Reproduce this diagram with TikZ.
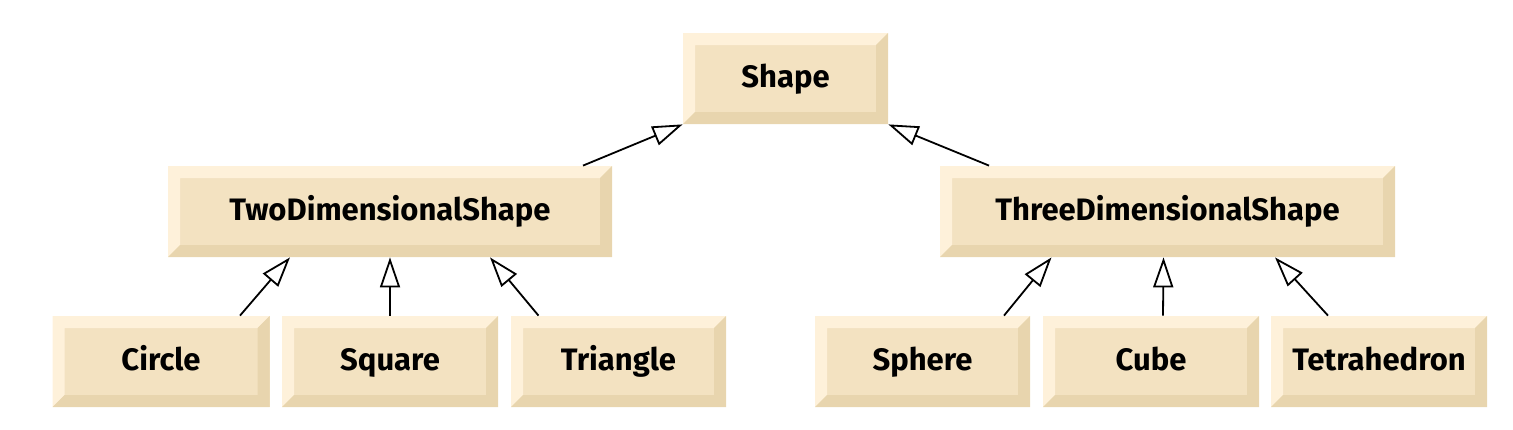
\documentclass[tikz,border=0pt]{standalone}
\usepackage{fontspec}
\setmainfont{Fira Sans}
\usetikzlibrary{arrows.meta}

\definecolor{boxface}{HTML}{F3E2C1}
\definecolor{boxlight}{HTML}{FEF1DA}
\definecolor{boxdark}{HTML}{E8D5AE}

\begin{document}
\begin{tikzpicture}[x=0.5pt,y=-0.5pt]
			\tikzstyle{every node}=[fill=boxface,inner sep=0pt,minimum height=45.5pt,
				text height=11pt,text depth=2pt,
				font=\bfseries\fontsize{15.5}{18}\selectfont,
				path picture={
					\fill[boxlight] (path picture bounding box.north west) -- (path picture bounding box.north east)
						-- ([shift={(-6pt,-6pt)}]path picture bounding box.north east)
						-- ([shift={(6pt,-6pt)}]path picture bounding box.north west)
						-- ([shift={(6pt,6pt)}]path picture bounding box.south west)
						-- (path picture bounding box.south west) -- cycle;
					\fill[boxdark] (path picture bounding box.north east) -- (path picture bounding box.south east)
						-- (path picture bounding box.south west)
						-- ([shift={(6pt,6pt)}]path picture bounding box.south west)
						-- ([shift={(-6pt,6pt)}]path picture bounding box.south east)
						-- ([shift={(-6pt,-6pt)}]path picture bounding box.north east) -- cycle;
				}]
			\tikzstyle{generalization}=[{Triangle[open,length=15pt,width=10pt]}-,line width=0.9pt]
			\useasboundingbox (0,0) rectangle (1513,429);
			% top level
			\node[minimum width=102.5pt] (shape) at (785.5,78.5) {Shape};
			% second level
			\node[minimum width=222pt] (twod) at (390,211.5) {TwoDimensionalShape};
			\node[minimum width=227.5pt] (threed) at (1167.5,211.5) {ThreeDimensionalShape};
			% leaves
			\node[minimum width=108.5pt] (circle) at (161,361.5) {Circle};
			\node[minimum width=108pt] (square) at (390,361.5) {Square};
			\node[minimum width=107.5pt] (triangle) at (618.5,361.5) {Triangle};
			\node[minimum width=107.5pt] (sphere) at (922.5,361.5) {Sphere};
			\node[minimum width=108pt] (cube) at (1151,361.5) {Cube};
			\node[minimum width=108pt] (tetrahedron) at (1379,361.5) {Tetrahedron};
			% inheritance
			\draw[generalization] (shape.south west) -- ([xshift=96.5pt]twod.north);
			\draw[generalization] (shape.south east) -- ([xshift=-89.25pt]threed.north);
			\draw[generalization] ([xshift=-50pt]twod.south) -- ([xshift=39.5pt]circle.north);
			\draw[generalization] (twod.south) -- (square.north);
			\draw[generalization] ([xshift=50pt]twod.south) -- ([xshift=-40pt]triangle.north);
			\draw[generalization] ([xshift=-58pt]threed.south) -- ([xshift=40.75pt]sphere.north);
			\draw[generalization] ([xshift=-2pt]threed.south) -- ([xshift=6pt]cube.north);
			\draw[generalization] ([xshift=53.75pt]threed.south) -- ([xshift=-25.5pt]tetrahedron.north);
		\end{tikzpicture}
\end{document}
